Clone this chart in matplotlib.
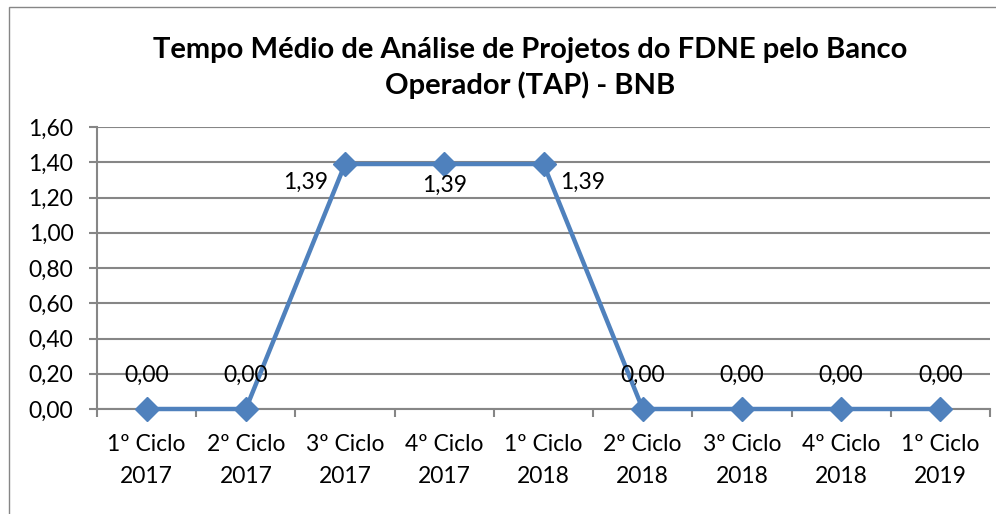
import matplotlib
matplotlib.use("Agg")
import matplotlib.pyplot as plt
from matplotlib.patches import Rectangle

categories = ["1º Ciclo\n2017", "2º Ciclo\n2017", "3º Ciclo\n2017", "4º Ciclo\n2017",
              "1º Ciclo\n2018", "2º Ciclo\n2018", "3º Ciclo\n2018", "4º Ciclo\n2018",
              "1º Ciclo\n2019"]
values = [0.00, 0.00, 1.39, 1.39, 1.39, 0.00, 0.00, 0.00, 0.00]
yticks = [0.0, 0.2, 0.4, 0.6, 0.8, 1.0, 1.2, 1.4, 1.6]
title = "Tempo Médio de Análise de Projetos do FDNE pelo Banco\nOperador (TAP) - BNB"

plt.rcParams['font.family'] = ['Lato', 'DejaVu Sans']

W, H = 996, 514
FS = 16.5
fig = plt.figure(figsize=(W/100, H/100), dpi=100)
fig.patch.set_facecolor('white')

# outer chart border (partially cropped in reference)
fig.patches.append(Rectangle((9/W, -0.1), 1.2, 1 - 7/H + 0.1, transform=fig.transFigure,
                             fill=False, edgecolor='#868686', linewidth=1.0))

ax = fig.add_axes([97/W, 1 - 409/H, (990-97)/W, (409-127)/H])
x = list(range(len(values)))
ax.plot(x, values, color='#4F81BD', linewidth=3.2, marker='D', markersize=12,
        markerfacecolor='#4F81BD', markeredgecolor='#4F81BD', zorder=3, clip_on=False)

ax.set_xlim(-0.5, len(values) - 0.5)
ax.set_ylim(0, 1.6)
ax.set_yticks(yticks)
ax.set_yticklabels([f"{v:.2f}".replace('.', ',') for v in yticks], fontsize=FS)
ax.set_xticks(x)
ax.set_xticklabels(categories, fontsize=FS, linespacing=1.65)
ax.tick_params(axis='x', length=0, pad=18)
ax.tick_params(axis='y', length=6, width=1.5, color='#868686', pad=11)
# minor ticks at category boundaries
ax.set_xticks([i - 0.5 for i in range(len(values) + 1)], minor=True)
ax.tick_params(axis='x', which='minor', length=6, width=1.5, color='#868686', direction='out')

ax.grid(axis='y', color='#868686', linewidth=1.5)
ax.set_axisbelow(True)
for s in ['top', 'right']:
    ax.spines[s].set_visible(False)
for s in ['left', 'bottom']:
    ax.spines[s].set_color('#868686')
    ax.spines[s].set_linewidth(1.5)

# data labels
for i, v in enumerate(values):
    lab = f"{v:.2f}".replace('.', ',')
    if v == 0:
        ax.annotate(lab, (i, v), xytext=(0, 17), textcoords='offset points',
                    ha='center', va='bottom', fontsize=FS)
    else:
        if i == 2:
            off, ha, va = (-12, -13), 'right', 'center'
        elif i == 3:
            off, ha, va = (0, -8), 'center', 'top'
        else:
            off, ha, va = (12, -13), 'left', 'center'
        ax.annotate(lab, (i, v), xytext=off, textcoords='offset points',
                    ha=ha, va=va, fontsize=FS)

fig.text(530/W, 1 - 68/H, title, ha='center', va='center', fontsize=21,
         fontweight='bold', linespacing=1.4)

fig.savefig("out.png", dpi=100)
